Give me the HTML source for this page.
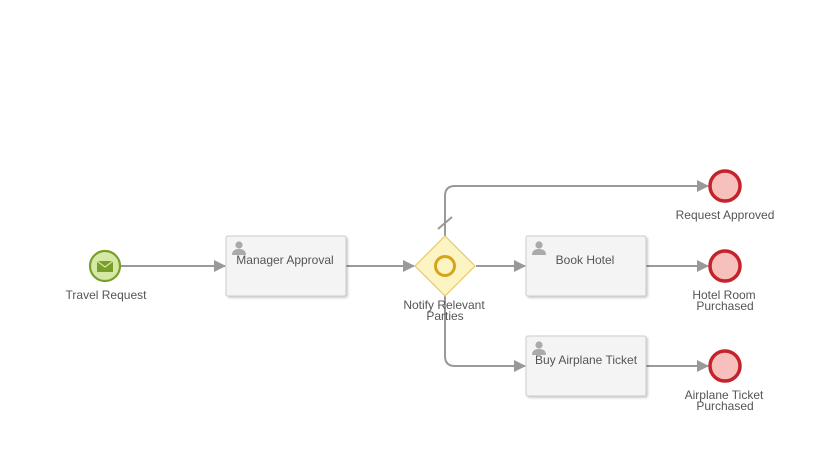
<!DOCTYPE html>
<html><head><meta charset="utf-8"><style>
html,body{margin:0;padding:0;background:#fff;}
svg{display:block;font-family:"Liberation Sans",Arial,sans-serif;}
</style></head><body>
<svg width="817" height="464" viewBox="0 0 817 464" xmlns="http://www.w3.org/2000/svg">
<defs>
<marker id="a" markerWidth="12" markerHeight="12" refX="11" refY="6" orient="auto" markerUnits="userSpaceOnUse">
<path d="M0,0 L12,6 L0,12 z" fill="#999"/></marker>
<filter id="s" x="-10%" y="-10%" width="130%" height="130%"><feDropShadow dx="1.5" dy="1.5" stdDeviation="1" flood-color="#000" flood-opacity="0.2"/></filter>
<g id="u"><circle cx="0" cy="-4" r="3.6" fill="#aaa"/><path d="M-7,6 Q-7,0 0,0 Q7,0 7,6 z" fill="#aaa"/></g>
</defs>
<g stroke="#999" stroke-width="2" fill="none">
<path d="M121,266 L225,266" marker-end="url(#a)"/>
<path d="M346,266 L414,266" marker-end="url(#a)"/>
<path d="M476,266 L525,266" marker-end="url(#a)"/>
<path d="M445,236 L445,196 Q445,186 455,186 L708,186" marker-end="url(#a)"/>
<path d="M445,296 L445,356 Q445,366 455,366 L525,366" marker-end="url(#a)"/>
<path d="M646,266 L708,266" marker-end="url(#a)"/>
<path d="M646,366 L708,366" marker-end="url(#a)"/>
<path d="M438,229 L452,217"/>
</g>
<circle cx="105" cy="266" r="15" fill="#d5e8a4" stroke="#7a9e2a" stroke-width="2.2"/>
<path d="M97,261 L113,261 L113,272 L97,272 z" fill="#7a9e2a"/>
<path d="M97,261 L105,267 L113,261" fill="none" stroke="#d5e8a4" stroke-width="1.2"/>
<rect x="226" y="236" width="120" height="60" rx="2" fill="#f4f4f4" stroke="#ccc" filter="url(#s)"/>
<use href="#u" x="239" y="249"/>
<rect x="526" y="236" width="120" height="60" rx="2" fill="#f4f4f4" stroke="#ccc" filter="url(#s)"/>
<use href="#u" x="539" y="249"/>
<rect x="526" y="336" width="120" height="60" rx="2" fill="#f4f4f4" stroke="#ccc" filter="url(#s)"/>
<use href="#u" x="539" y="349"/>
<path d="M445,236 L475,266 L445,296 L415,266 z" fill="#fcf4c2" stroke="#e8c86a" stroke-width="1.2"/>
<circle cx="445" cy="266" r="9.5" fill="none" stroke="#d6a51a" stroke-width="3"/>
<g fill="#f8c0bd" stroke="#c4232c" stroke-width="3.5">
<circle cx="725" cy="186" r="15"/><circle cx="725" cy="266" r="15"/><circle cx="725" cy="366" r="15"/>
</g>
<g font-size="12" fill="#555" text-anchor="middle">
<text x="106" y="299">Travel Request</text>
<text x="285" y="264">Manager Approval</text>
<text x="585" y="264">Book Hotel</text>
<text x="586" y="364">Buy Airplane Ticket</text>
<text x="444" y="309">Notify Relevant</text>
<text x="445" y="320">Parties</text>
<text x="725" y="219">Request Approved</text>
<text x="724" y="299">Hotel Room</text>
<text x="725" y="310">Purchased</text>
<text x="724" y="399">Airplane Ticket</text>
<text x="725" y="410">Purchased</text>
</g>
</svg>
</body></html>
